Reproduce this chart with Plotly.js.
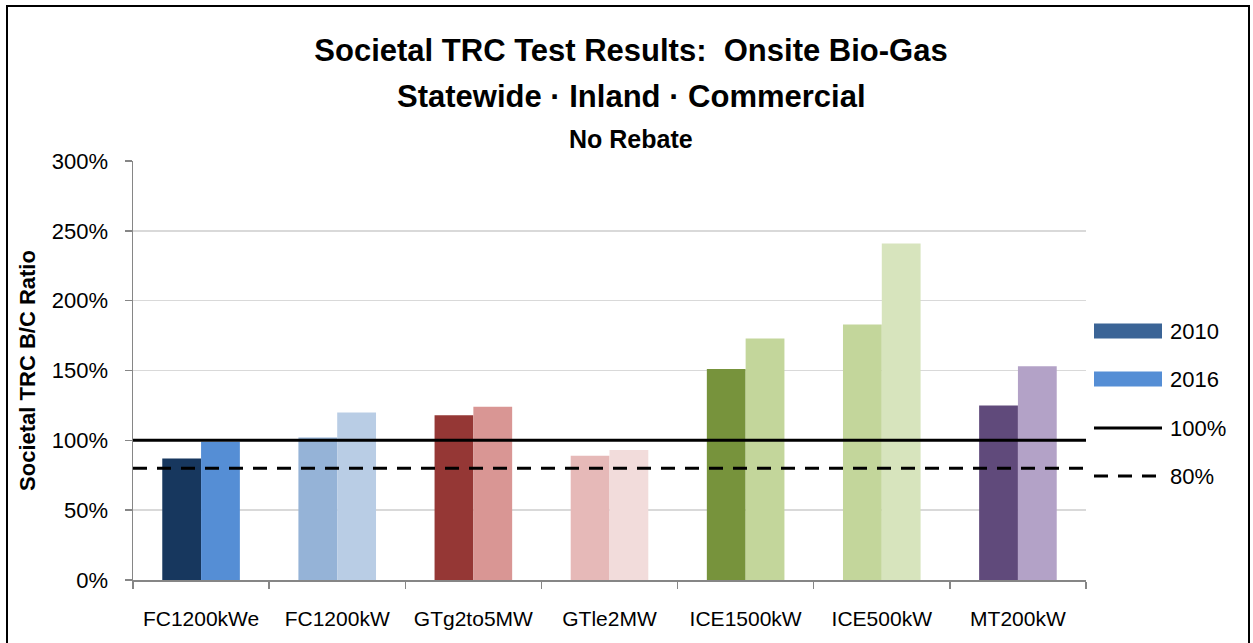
<!DOCTYPE html>
<html>
<head>
<meta charset="utf-8">
<script src="https://cdn.plot.ly/plotly-3.0.1.min.js"></script>
<style>
  body { margin: 0; background: #fff; }
  #myDiv { position: absolute; left: 0; top: 0; width: 1253px; height: 643px; }
  #frame { position: absolute; left: 6px; top: 5px; width: 1240px; height: 700px;
           border: 2px solid #000; pointer-events: none; }
</style>
</head>
<body>
<div id="myDiv"></div>
<div id="frame"></div>
<script>
var categories = ['FC1200kWe', 'FC1200kW', 'GTg2to5MW', 'GTle2MW', 'ICE1500kW', 'ICE500kW', 'MT200kW'];
var values2010 = [0.87, 1.02, 1.18, 0.89, 1.51, 1.83, 1.25];
var values2016 = [0.99, 1.20, 1.24, 0.93, 1.73, 2.41, 1.53];
var colors2010 = ['#17375E', '#95B3D7', '#953735', '#E6B9B8', '#77933C', '#C3D69B', '#604A7B'];
var colors2016 = ['#558ED5', '#B9CDE5', '#D99694', '#F2DCDB', '#C3D69B', '#D7E4BD', '#B3A2C7'];
var refLevels = [1.0, 0.8];
var refDash = ['solid', '14px,10px'];
var legendNames = ['2010', '2016', '100%', '80%'];
var legendColors = ['#3B6496', '#558ED5', '#000', '#000'];

var fontFam = '"Liberation Sans", Arial, sans-serif';

var trace1 = {
  x: categories,
  y: values2010,
  name: '2010',
  type: 'bar',
  marker: {color: colors2010},
  showlegend: false
};
var trace2 = {
  x: categories,
  y: values2016,
  name: '2016',
  type: 'bar',
  marker: {color: colors2016},
  showlegend: false
};

// plot area in px, used to place the hand-made legend
var plotL = 133, plotR = 1086, plotT = 161, plotB = 580;
function px2x(p) { return (p - plotL) / (plotR - plotL); }
function py2y(p) { return (plotB - p) / (plotB - plotT); }

var shapes = [];
refLevels.forEach(function (lv, i) {
  shapes.push({type: 'line', xref: 'paper', yref: 'y', x0: 0, x1: 1, y0: lv, y1: lv,
    line: {color: '#000', width: 3, dash: refDash[i]}});
});

var annotations = [
  {text: '<b>Statewide · Inland · Commercial</b>', xref: 'paper', yref: 'paper',
   x: px2x(631), y: py2y(96), xanchor: 'center', yanchor: 'middle', showarrow: false,
   font: {size: 31, family: fontFam, color: '#000'}},
  {text: '<b>No Rebate</b>', xref: 'paper', yref: 'paper',
   x: px2x(631), y: py2y(139), xanchor: 'center', yanchor: 'middle', showarrow: false,
   font: {size: 25, family: fontFam, color: '#000'}}
];

var legendY = [331, 379, 428, 476];
legendNames.forEach(function (nm, i) {
  var yc = py2y(legendY[i]);
  if (i < 2) {
    shapes.push({type: 'rect', xref: 'paper', yref: 'paper',
      x0: px2x(1094), x1: px2x(1162), y0: yc - 7.5 / 419, y1: yc + 7.5 / 419,
      fillcolor: legendColors[i], line: {width: 0}});
  } else {
    shapes.push({type: 'line', xref: 'paper', yref: 'paper',
      x0: px2x(1094), x1: px2x(1162), y0: yc, y1: yc,
      line: {color: '#000', width: 3, dash: refDash[i - 2]}});
  }
  annotations.push({text: nm, xref: 'paper', yref: 'paper', x: px2x(1168), y: yc,
    xanchor: 'left', yanchor: 'middle', showarrow: false,
    font: {size: 22, family: fontFam, color: '#000'}});
});

var data = [trace1, trace2];
var layout = {
  width: 1253,
  height: 643,
  barmode: 'group',
  bargap: 0.43,
  bargroupgap: 0,
  font: {family: fontFam, color: '#000'},
  paper_bgcolor: '#fff',
  plot_bgcolor: '#fff',
  margin: {l: plotL, r: 1253 - plotR, t: plotT, b: 643 - plotB},
  title: {text: '<b>Societal TRC Test Results:  Onsite Bio-Gas</b>',
          font: {size: 31, family: fontFam, color: '#000'},
          x: 631 / 1253, xanchor: 'center', y: 1 - 50 / 643, yanchor: 'middle'},
  xaxis: {
    type: 'category',
    showline: true, linecolor: '#868686', linewidth: 1.5,
    ticks: 'outside', tickson: 'boundaries', ticklen: 7, tickcolor: '#868686', tickwidth: 1.5,
    tickfont: {size: 21, family: fontFam, color: '#000'},
    ticklabelstandoff: 19,
    showgrid: false, zeroline: false, automargin: false
  },
  yaxis: {
    range: [0, 3], dtick: 0.5, tickformat: '.0%',
    showline: true, linecolor: '#868686', linewidth: 1.5,
    ticks: 'outside', ticklen: 7, tickcolor: '#868686', tickwidth: 1.5,
    tickfont: {size: 22, family: fontFam, color: '#000'},
    ticklabelstandoff: 12,
    showgrid: true, gridcolor: '#d9d9d9', gridwidth: 1.5, zeroline: false,
    automargin: false,
    title: {text: '<b>Societal TRC B/C Ratio</b>', font: {size: 22, family: fontFam, color: '#000'},
            standoff: 10}
  },
  shapes: shapes,
  annotations: annotations,
  showlegend: false
};
Plotly.newPlot('myDiv', data, layout, {displayModeBar: false, staticPlot: true});
</script>
</body>
</html>
